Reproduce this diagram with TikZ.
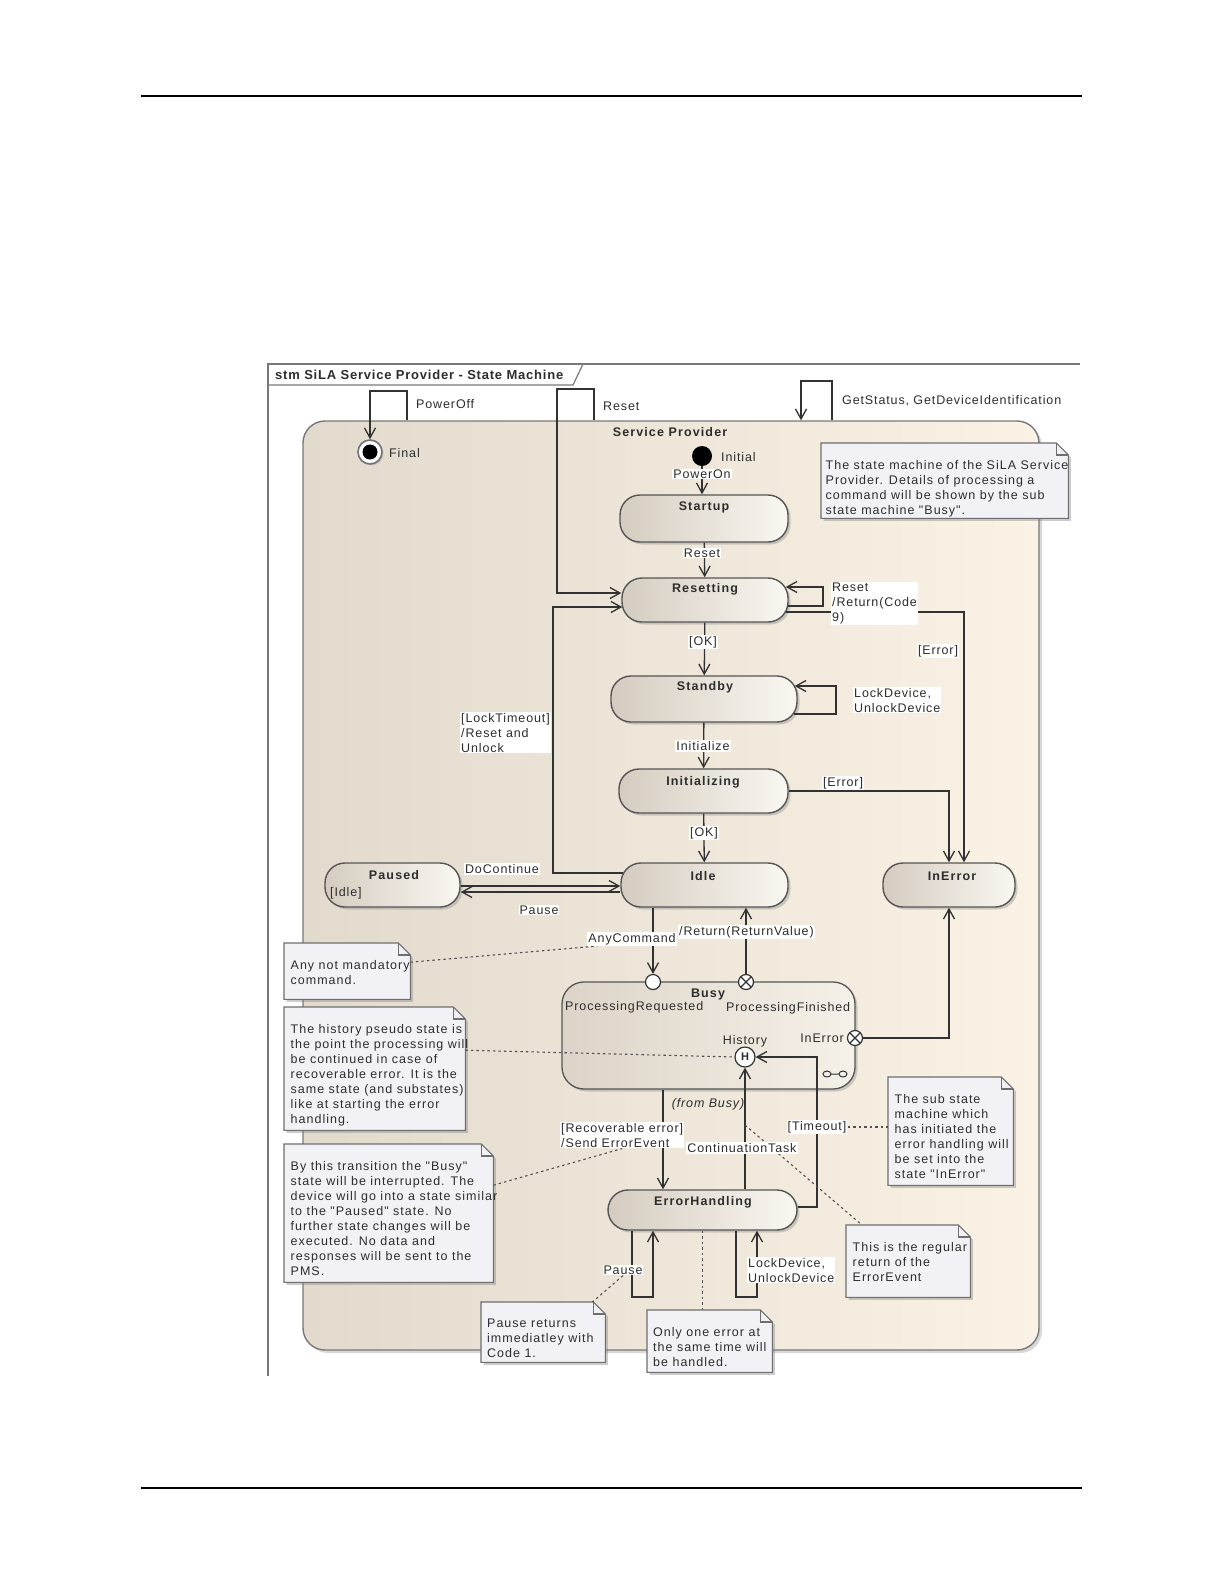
\documentclass[tikz,border=0pt]{standalone}
\usepackage{fontspec}
\setmainfont{Liberation Sans}[LetterSpace=7]
\newfontfamily\notefam{Liberation Sans}[LetterSpace=8]
\newfontfamily\snfam{Liberation Sans}[LetterSpace=9]
\newfontfamily\hdrfam{Liberation Sans}[LetterSpace=6]
\usetikzlibrary{arrows.meta,shadows,calc}
\pgfdeclarelayer{splayer}
\pgfdeclarelayer{notelayer}
\pgfdeclarelayer{lablayer}
\pgfsetlayers{splayer,notelayer,main,lablayer}
\definecolor{tc}{RGB}{45,45,45}
\definecolor{ln}{RGB}{50,50,50}
\definecolor{stroke}{RGB}{85,85,85}
\definecolor{frm}{RGB}{120,120,120}
\definecolor{spL}{RGB}{226,218,205}
\definecolor{spR}{RGB}{250,242,228}
\definecolor{stL}{RGB}{212,204,192}
\definecolor{stR}{RGB}{250,247,241}
\definecolor{bsL}{RGB}{220,212,200}
\definecolor{bsR}{RGB}{246,241,232}
\definecolor{notefill}{RGB}{242,242,246}
\definecolor{notestroke}{RGB}{110,110,110}
\newcommand\lblfont{\fontsize{12.5}{15}\selectfont}
\newcommand\notefont{\notefam\fontsize{12.5}{15}\selectfont}
\newcommand\snfont{\snfam\fontsize{12.5}{14}\selectfont\bfseries}
\newcommand\notefold[1]{%
 \begin{pgfonlayer}{notelayer}
 \filldraw[fill=notefill, draw=notestroke, line width=1.1pt,
   drop shadow={opacity=0.4, shadow xshift=2.5pt, shadow yshift=-2.5pt}]
   (#1.north west) -- ([xshift=-12pt]#1.north east) -- ([yshift=-12pt]#1.north east)
   -- (#1.south east) -- (#1.south west) -- cycle;
 \draw[draw=notestroke, line width=1.1pt] ([xshift=-12pt]#1.north east)
   -- ([xshift=-12pt,yshift=-12pt]#1.north east) -- ([yshift=-12pt]#1.north east);
 \end{pgfonlayer}}
\begin{document}
\begin{tikzpicture}[x=1pt,y=-1pt,
  trans/.style={draw=ln, line width=1.3pt, -{Straight Barb[length=10pt,width=11pt]}},
  dotl/.style={draw=ln!85, line width=1.1pt, dash pattern=on 2.5pt off 3pt},
  lab/.style={fill=white, inner sep=1pt, text=tc, font=\lblfont},
  labn/.style={inner sep=1pt, text=tc, font=\lblfont},
  labml/.style={lab, align=left, anchor=north west},
  sname/.style={text=tc, font=\snfont, inner sep=0pt},
  statebox/.style={draw=stroke, line width=1.4pt, rounded corners=20pt, left color=stL, right color=stR,
     drop shadow={opacity=0.35,shadow xshift=2.5pt,shadow yshift=-2.5pt}, inner sep=0pt},
  notebox/.style={inner sep=0pt, anchor=north west},
  notetxt/.style={anchor=north west, inner sep=0pt, align=left, text=tc, font=\notefont},
  exitpt/.style={circle, draw=ln, fill=white, line width=1.2pt, minimum size=15pt, inner sep=0pt,
     path picture={\draw[line width=1.1pt, ln] (path picture bounding box.north west) -- (path picture bounding box.south east)
       (path picture bounding box.south west) -- (path picture bounding box.north east);}},
]
\useasboundingbox (0,0) rectangle (1225,1585);
\begin{pgfonlayer}{splayer}
\fill[white] (0,0) rectangle (1225,1585);
\draw[line width=1.3pt] (141,96) -- (1082,96);
\draw[line width=1.3pt] (141,1488) -- (1082,1488);
\draw[frm, line width=1.2pt] (268,1376) -- (268,364) -- (1080,364);
\draw[frm, line width=1.2pt] (268,385) -- (573,385) -- (583,364);
\node[anchor=west, font=\hdrfam\fontsize{13}{14}\selectfont\bfseries, text=tc, inner sep=0pt] (hdr) at (275,374.5) {stm SiLA Service Provider - State Machine};
\node[draw=frm, line width=1.4pt, rounded corners=22pt, left color=spL, right color=spR,
  minimum width=736pt, minimum height=929pt, inner sep=0pt,
  drop shadow={opacity=0.3,shadow xshift=3pt,shadow yshift=-3pt}] (sp) at (671,885.5) {};
\end{pgfonlayer}
\node[sname] (spT) at (670,432) {Service Provider};

% pseudo states
\node[circle, fill=black, minimum size=20pt, inner sep=0pt] (init) at (702,456) {};
\node[circle, draw=black!55, line width=1.6pt, fill=white, minimum size=24pt, inner sep=0pt,
  drop shadow={opacity=0.3,shadow xshift=1.5pt,shadow yshift=-1.5pt},
  path picture={\fill[black] (path picture bounding box.center) circle (7.5pt);}] (final) at (370,452) {};

% states
\node[statebox, minimum width=168pt, minimum height=47pt] (startup) at (704,518.5) {};
\node[sname] (startupT) at (704,507) {Startup};
\node[statebox, minimum width=166pt, minimum height=44pt] (resetting) at (705,600) {};
\node[sname] (resettingT) at (705,589) {Resetting};
\node[statebox, minimum width=186pt, minimum height=46pt] (standby) at (704,699) {};
\node[sname] (standbyT) at (705,687) {Standby};
\node[statebox, minimum width=169pt, minimum height=44pt] (initializing) at (703.5,791) {};
\node[sname] (initializingT) at (703,782) {Initializing};
\node[statebox, minimum width=167pt, minimum height=44pt] (idle) at (704.5,885) {};
\node[sname] (idleT) at (703,876) {Idle};
\node[statebox, minimum width=132pt, minimum height=44pt] (inerror) at (949,885) {};
\node[sname] (inerrorT) at (952,876) {InError};
\node[statebox, minimum width=135pt, minimum height=44pt] (paused) at (392.5,885) {};
\node[sname] (pausedT) at (394,875) {Paused};
\node[labn, anchor=west] (pausedIdle) at (329,893) {[Idle]};
\node[statebox, minimum width=189pt, minimum height=40pt] (eh) at (702.5,1210) {};
\node[sname] (ehT) at (703,1202) {ErrorHandling};

% Busy composite
\node[draw=stroke, line width=1.3pt, rounded corners=22pt, left color=bsL, right color=bsR,
  minimum width=293pt, minimum height=107pt, inner sep=0pt,
  drop shadow={opacity=0.35,shadow xshift=2.5pt,shadow yshift=-2.5pt}] (busy) at (708.5,1035.5) {};
\node[sname] (busyT) at (708,994) {Busy};
\node[circle, draw=ln, fill=white, line width=1.2pt, minimum size=15pt, inner sep=0pt] (preq) at (653,982) {};
\node[exitpt] (pfin) at (746,982) {};
\node[exitpt] (perr) at (855,1038) {};
\node[circle, draw=ln, fill=white, line width=1.2pt, minimum size=20pt, inner sep=0pt,
  font=\fontsize{11}{11}\selectfont\bfseries, text=tc] (hist) at (745,1057) {H};
\draw[ln, line width=1pt] (827,1074) ellipse (4pt and 3pt) (843,1074) ellipse (4pt and 3pt) (831,1074) -- (839,1074);

% notes
\node[notebox, minimum width=247pt, minimum height=75pt] (n1) at (821,443) {};
\node[notebox, minimum width=126pt, minimum height=56pt] (n2) at (284,943) {};
\node[notebox, minimum width=181pt, minimum height=123pt] (n3) at (284,1007) {};
\node[notebox, minimum width=209pt, minimum height=138pt] (n4) at (284,1144) {};
\node[notebox, minimum width=125pt, minimum height=108pt] (n5) at (888,1077) {};
\node[notebox, minimum width=124pt, minimum height=72pt] (n6) at (846,1225) {};
\node[notebox, minimum width=124pt, minimum height=60pt] (n7) at (481,1302) {};
\node[notebox, minimum width=125pt, minimum height=62pt] (n8) at (647,1310) {};
\notefold{n1}\notefold{n2}\notefold{n3}\notefold{n4}\notefold{n5}\notefold{n6}\notefold{n7}\notefold{n8}
\node[notetxt] (n1t) at ([shift={(4.5pt,-17pt)}]n1.north west) {The state machine of the SiLA Service\\Provider. Details of processing a\\command will be shown by the sub\\state machine "Busy".};
\node[notetxt] (n2t) at ([shift={(6.5pt,-17pt)}]n2.north west) {Any not mandatory\\command.};
\node[notetxt] (n3t) at ([shift={(6.5pt,-17pt)}]n3.north west) {The history pseudo state is\\the point the processing will\\be continued in case of\\recoverable error. It is the\\same state (and substates)\\like at starting the error\\handling.};
\node[notetxt] (n4t) at ([shift={(6.5pt,-17pt)}]n4.north west) {By this transition the "Busy"\\state will be interrupted. The\\device will go into a state similar\\to the "Paused" state. No\\further state changes will be\\executed. No data and\\responses will be sent to the\\PMS.};
\node[notetxt] (n5t) at ([shift={(6.5pt,-17pt)}]n5.north west) {The sub state\\machine which\\has initiated the\\error handling will\\be set into the\\state "InError"};
\node[notetxt] (n6t) at ([shift={(6.5pt,-17pt)}]n6.north west) {This is the regular\\return of the\\ErrorEvent};
\node[notetxt] (n7t) at ([shift={(6pt,-17pt)}]n7.north west) {Pause returns\\immediatley with\\Code 1.};
\node[notetxt] (n8t) at ([shift={(6pt,-17pt)}]n8.north west) {Only one error at\\the same time will\\be handled.};

% labels
\begin{pgfonlayer}{lablayer}
\node[lab, anchor=west] (lPowerOff) at (415,404) {PowerOff};
\node[lab, anchor=west] (lResetTop) at (602,406) {Reset};
\node[lab, anchor=west] (lGet) at (841,401) {GetStatus, GetDeviceIdentification};
\node[labn, anchor=west] (lInit) at (720,457) {Initial};
\node[labn, anchor=west] (lFinal) at (388,453) {Final};
\node[lab] (lPowerOn) at (702,474) {PowerOn};
\node[lab] (lReset) at (702,553) {Reset};
\node[labml] (lResetLoop) at (831,582) {Reset\\/Return(Code\\9)};
\node[lab] (lErr1) at (938,651) {[Error]};
\node[lab] (lOK1) at (703,642) {[OK]};
\node[labml] (lLock1) at (853,687) {LockDevice,\\UnlockDevice};
\node[lab] (lInitz) at (703,746) {Initialize};
\node[lab] (lErr2) at (843,783) {[Error]};
\node[lab] (lOK2) at (704,833) {[OK]};
\node[labml] (lLT) at (460,712) {[LockTimeout]\\/Reset and\\Unlock};
\node[lab] (lDoC) at (502,869) {DoContinue};
\node[lab] (lPause) at (539,910) {Pause};
\node[lab] (lAny) at (632,939) {AnyCommand};
\node[lab, anchor=west] (lRet) at (678,932) {/Return(ReturnValue)};
\node[labn, anchor=west] (lPReq) at (564,1007) {ProcessingRequested};
\node[labn, anchor=west] (lPFin) at (725,1008) {ProcessingFinished};
\node[labn] (lHist) at (745,1041) {History};
\node[labn, anchor=east] (lInErr) at (845,1038) {InError};
\node[labn, font=\lblfont\itshape] (lFrom) at (708,1104) {(from Busy)};
\node[labml] (lRec) at (560,1122) {[Recoverable error]\\/Send ErrorEvent};
\node[lab] (lCont) at (742,1148) {ContinuationTask};
\node[lab] (lTmo) at (817,1127) {[Timeout]};
\node[lab] (lPauseEH) at (623,1270) {Pause};
\node[labml] (lLock2) at (747,1257) {LockDevice,\\UnlockDevice};
\end{pgfonlayer}

% transitions
\coordinate (po1) at (407,391);
\draw[trans] (sp.north -| po1) -- (po1) -| (final);
\coordinate (rs1) at (594,389);
\coordinate (rs2) at (557,389);
\draw[trans] (sp.north -| rs1) -- (rs1) -- (rs2) |- ([yshift=7pt]resetting.west);
\coordinate (gs1) at (832,381);
\coordinate (gs2) at (801,381);
\draw[trans] (sp.north -| gs1) -- (gs1) -- (gs2) -- (sp.north -| gs2);
\draw[trans] (init) -- (init |- startup.north);
\draw[trans] (startup) -- (resetting);
\coordinate (rl1) at (823,606);
\coordinate (rl2) at (823,587);
\draw[trans] ([yshift=-6pt,xshift=-1pt]resetting.east) -- (rl1) -- (rl2) -- ([yshift=13pt,xshift=-3pt]resetting.east);
\draw[trans] ([yshift=-12pt,xshift=-3pt]resetting.east) -| ([xshift=15pt]inerror.north);
\draw[trans] (resetting) -- (standby);
\coordinate (sl1) at (836,714);
\coordinate (sl2) at (836,686);
\draw[trans] ([yshift=-15pt,xshift=-4pt]standby.east) -- (sl1) -- (sl2) -- ([yshift=13pt,xshift=-3pt]standby.east);
\draw[trans] (standby) -- (initializing);
\draw[trans] (initializing.east) -| (inerror.north);
\draw[trans] (initializing) -- (idle);
\coordinate (lt1) at (553,873);
\coordinate (lt2) at (553,607);
\draw[trans] ([yshift=12pt,xshift=3pt]idle.west) -- (lt1) -- (lt2) -- ([yshift=-7pt,xshift=1pt]resetting.west);
\draw[trans] ([yshift=-1pt]paused.east) -- ([yshift=-1pt]idle.west);
\draw[trans] ([yshift=-7pt]idle.west) -- ([yshift=-7pt]paused.east);
\draw[trans] (idle.south -| preq) -- (preq);
\draw[trans] (pfin) -- (pfin |- idle.south);
\draw[trans] (perr) -| (inerror.south);
\coordinate (recx) at (663,0);
\draw[trans] (busy.south -| recx) -- (eh.north -| recx);
\draw[trans] (eh.north -| hist) -- (hist);
\coordinate (tmo) at (817,1057);
\draw[trans] ([yshift=3pt]eh.east) -| (tmo) -- (hist);
\coordinate (pl1) at (632,1297);
\coordinate (pl2) at (653,1297);
\draw[trans] (eh.south -| pl1) -- (pl1) -- (pl2) -- (eh.south -| pl2);
\coordinate (ld1) at (736,1297);
\coordinate (ld2) at (757,1297);
\draw[trans] (eh.south -| ld1) -- (ld1) -- (ld2) -- (eh.south -| ld2);

% note connectors
\draw[dotl] ([yshift=9pt]n2.east) -- ([xshift=10pt]lAny.south west);
\draw[dotl] ([yshift=18.5pt]n3.east) -- (hist.west);
\draw[dotl] ([yshift=28pt]n4.east) -- (lRec.south);
\draw[dotl] (lTmo.east) -- (n5.west |- lTmo.east);
\coordinate (ctp) at (745,1125);
\draw[dotl] (ctp) -- ([xshift=16pt]n6.north west);
\draw[dotl] (lPauseEH.south) -- ([xshift=-13pt]n7.north east);
\draw[dotl] (eh.south) -- (eh.south |- n8.north);
\end{tikzpicture}
\end{document}
